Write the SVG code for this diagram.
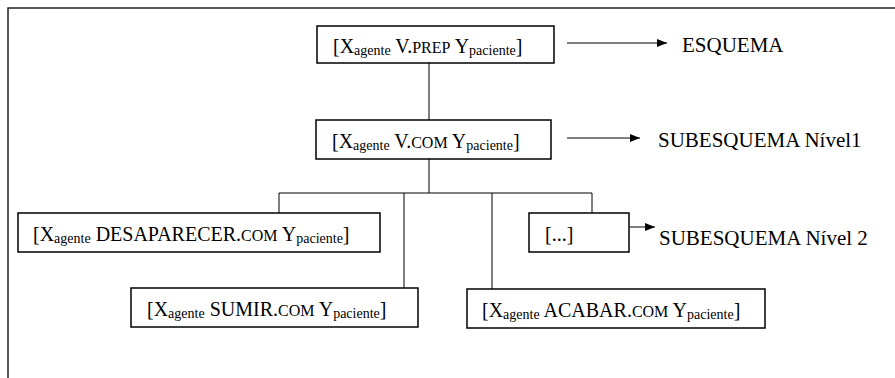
<svg xmlns="http://www.w3.org/2000/svg" width="895" height="378" viewBox="0 0 895 378">
<defs>
<style>
.box{fill:#fff;stroke:#000;stroke-width:1.5}
.ln{fill:none;stroke:#000;stroke-width:1}
.t{font-family:'Liberation Serif','Times New Roman',Tinos,'DejaVu Serif',serif;font-size:20px;fill:#000}
.sub{font-size:14px}
.sc{font-size:16px}
.lbl{font-family:'Liberation Serif','Times New Roman',Tinos,'DejaVu Serif',serif;font-size:21px;fill:#000}
</style>
<marker id="ah" viewBox="0 0 10 8" refX="10" refY="4" markerWidth="10" markerHeight="8" markerUnits="userSpaceOnUse" orient="auto">
<path d="M0,0 L10,4 L0,8 z" fill="#000"/>
</marker>
</defs>
<rect width="895" height="378" fill="#fff"/>
<path d="M8,378 V8 H895" fill="none" stroke="#222" stroke-width="1.5"/>
<g id="connectors">
<line class="ln" x1="429" y1="63" x2="429" y2="120"/>
<line class="ln" x1="429" y1="159" x2="429" y2="193"/>
<polyline class="ln" points="279,213 279,193 592,193 592,213"/>
<line class="ln" x1="404" y1="193" x2="404" y2="288"/>
<line class="ln" x1="492" y1="193" x2="492" y2="289"/>
<line class="ln" x1="567" y1="43" x2="667" y2="43" marker-end="url(#ah)"/>
<line class="ln" x1="567" y1="138" x2="640" y2="138" marker-end="url(#ah)"/>
<line class="ln" x1="630" y1="227" x2="655" y2="227" marker-end="url(#ah)"/>
</g>
<g id="esquema">
<rect class="box" x="317" y="26" width="237" height="37"/>
<text class="t" x="333" y="53" font-family="Liberation Serif, serif">[X<tspan class="sub" dy="2">agente</tspan><tspan dy="-2"> V.</tspan><tspan class="sc">PREP</tspan> Y<tspan class="sub" dy="2">paciente</tspan><tspan dy="-2">]</tspan></text>
</g>
<g id="subesquema1">
<rect class="box" x="316" y="120" width="235" height="39"/>
<text class="t" x="332" y="148">[X<tspan class="sub" dy="2">agente</tspan><tspan dy="-2"> V.</tspan><tspan class="sc">COM</tspan> Y<tspan class="sub" dy="2">paciente</tspan><tspan dy="-2">]</tspan></text>
</g>
<g id="desaparecer">
<rect class="box" x="18" y="213" width="362" height="39"/>
<text class="t" x="33" y="241">[X<tspan class="sub" dy="2">agente</tspan><tspan dy="-2"> DESAPARECER.</tspan><tspan class="sc">COM</tspan> Y<tspan class="sub" dy="2">paciente</tspan><tspan dy="-2">]</tspan></text>
</g>
<g id="etc">
<rect class="box" x="529" y="213" width="100" height="39"/>
<text class="t" x="545" y="241">[...]</text>
</g>
<g id="sumir">
<rect class="box" x="131" y="288" width="287" height="39"/>
<text class="t" x="147" y="316">[X<tspan class="sub" dy="2">agente</tspan><tspan dy="-2"> SUMIR.</tspan><tspan class="sc">COM</tspan> Y<tspan class="sub" dy="2">paciente</tspan><tspan dy="-2">]</tspan></text>
</g>
<g id="acabar">
<rect class="box" x="467" y="289" width="298" height="39"/>
<text class="t" x="482" y="317">[X<tspan class="sub" dy="2">agente</tspan><tspan dy="-2"> ACABAR.</tspan><tspan class="sc">COM</tspan> Y<tspan class="sub" dy="2">paciente</tspan><tspan dy="-2">]</tspan></text>
</g>
<g id="labels">
<text class="lbl" x="682" y="52">ESQUEMA</text>
<text class="lbl" x="658" y="147">SUBESQUEMA Nível1</text>
<text class="lbl" x="659" y="245">SUBESQUEMA Nível 2</text>
</g>
</svg>
